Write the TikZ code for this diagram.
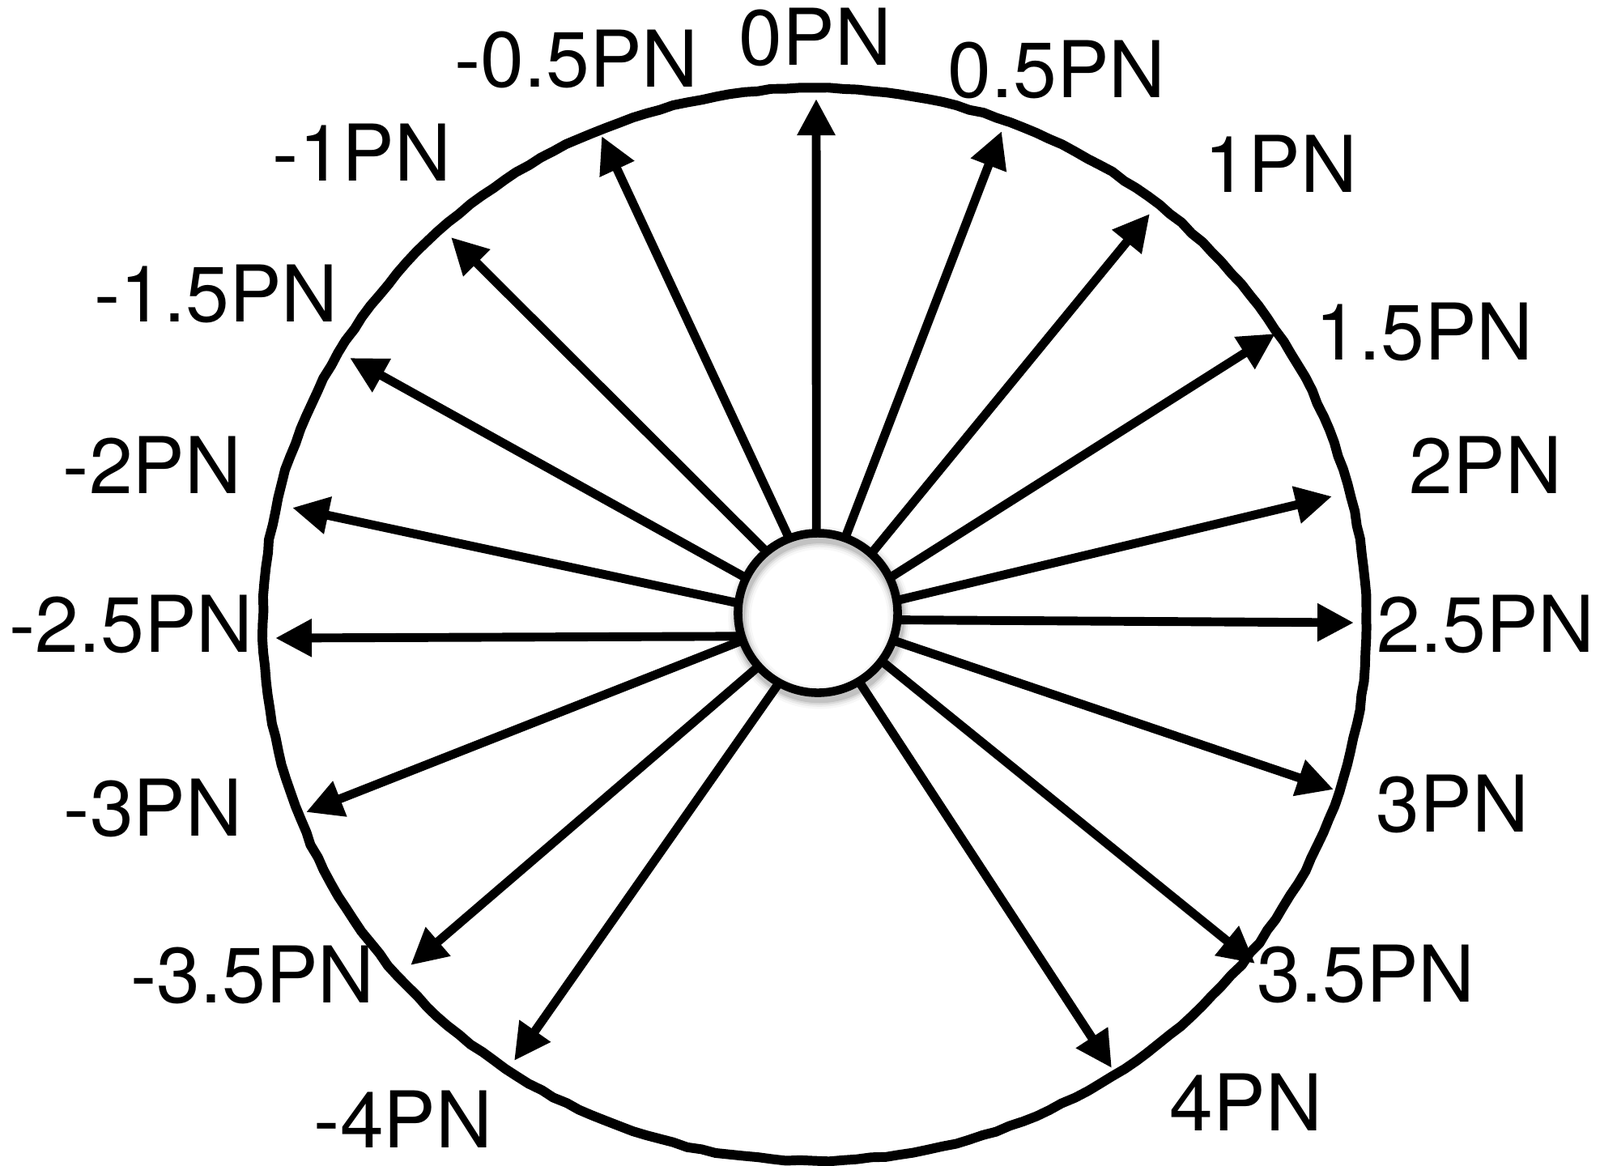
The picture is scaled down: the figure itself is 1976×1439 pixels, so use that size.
\documentclass[tikz,border=0pt]{standalone}
\usepackage{fontspec}
\setmainfont{TeX Gyre Heros}
\usetikzlibrary{arrows.meta,decorations.pathmorphing}
\pgfdeclarelayer{back}
\pgfdeclarelayer{bg}
\pgfsetlayers{back,bg,main}
\begin{document}
\begin{tikzpicture}[x=0.01cm,y=-0.01cm,
  lab/.style={inner sep=0pt, font=\fontsize{27.5}{33}\selectfont},
  arr/.style={line width=3.1pt, -{Triangle[length=12.8pt,width=12.6pt]}},
  rim/.style={line width=3.4pt, line join=round, decorate,
    decoration={random steps, segment length=5pt, amplitude=0.3pt}},
  hubstyle/.style={circle, draw, fill=white, line width=3pt,
    minimum size=1.97cm, inner sep=0pt, outer sep=0pt}]
\useasboundingbox (0,0) rectangle (1976,1439);
\begin{pgfonlayer}{back}
\fill[white] (0,0) rectangle (1976,1439);
\end{pgfonlayer}
% outer circle
\draw[rim] (1006,771) ellipse [x radius=6.81cm, y radius=6.62cm];
% hub
\coordinate (hc) at (1010,757);
\node[hubstyle] (hub) at (hc) {};
\foreach \w/\o in {3.8pt/0.10, 5pt/0.07, 6.4pt/0.05, 8pt/0.03}
  \draw[line width=\w, black, opacity=\o] ([shift={(2,6)}]hc) circle (0.985cm);
% tips and labels
\foreach \i/\tx/\ty/\lx/\ly/\txt in {
  1/1008/122/1007/46/0PN,
  2/1237/162/1305/86/0.5PN,
  3/1420/264/1582/202/1PN,
  4/1575/412/1759/410/1.5PN,
  5/1645/613/1835/574/2PN,
  6/1672/769/1835/771/2.5PN,
  7/1647/975/1794/993/3PN,
  8/1550/1190/1687/1203/3.5PN,
  9/1373/1319/1539/1361/4PN,
  10/635/1310/498/1382/-4PN,
  11/507/1192/312/1204/-3.5PN,
  12/378/1003/189/998/-3PN,
  13/340/788/162/771/-2.5PN,
  14/361/627/188/574/-2PN,
  15/432/442/267/363/-1.5PN,
  16/557/293/447/188/-1PN,
  17/743/168/712/73/-0.5PN}{
  \coordinate (t\i) at (\tx,\ty);
  \node[lab] (l\i) at (\lx,\ly) {\txt};
}
% arrows
\begin{pgfonlayer}{bg}
\foreach \i/\a in {1/91,2/70,3/48,4/26,5/9,6/355,7/340,8/323,9/301,
  10/241,11/222,12/200,13/197,14/173,15/154,16/130,17/111}
  \draw[arr] (hub.\a) -- (t\i);
\end{pgfonlayer}
\end{tikzpicture}
\end{document}
